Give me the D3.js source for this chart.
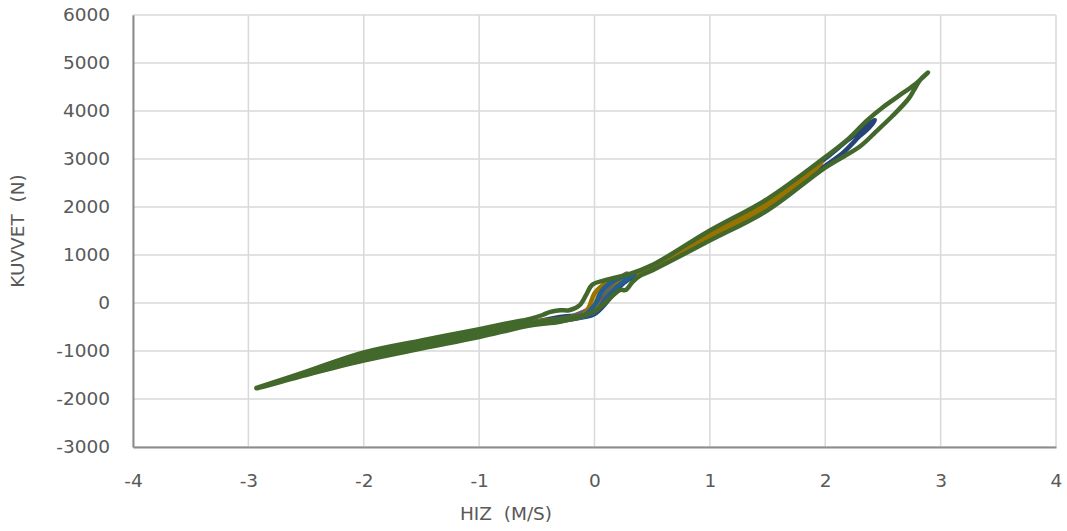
<!DOCTYPE html>
<html><head><meta charset="utf-8">
<script src="https://cdn.jsdelivr.net/npm/d3@7"></script>
<style>body{margin:0;background:#fff}svg{display:block}text{font-family:"DejaVu Sans",sans-serif;fill:#595959;white-space:pre}</style>
</head><body><svg id="c" width="1067" height="531"></svg>
<script>
const xTicks=[-4,-3,-2,-1,0,1,2,3,4];
const yTicks=[-3000,-2000,-1000,0,1000,2000,3000,4000,5000,6000];
const seriesNames=["S1","S2","S3","S4","S5","S6","S7","S8","S9","S10","S11","S12"];
const seriesColors=["#4472C4","#ED7D31","#A5A5A5","#FFC000","#5B9BD5","#70AD47","#264478","#9E480E","#636363","#997300","#255E91","#43682B"];
// each series: [velocity, force] pairs, loops in test order
const s1=[[-0.25,-330],[-0.1,-260],[0,-100],[0.05,150],[0.12,400],[0.25,560],[0.2,450],[0.12,250],[0.05,0],[-0.05,-240],[-0.25,-340]];
const s2=[[-0.2,-300],[-0.05,-200],[0.05,100],[0.12,350],[0.2,540],[0.17,450],[0.1,200],[0,-150],[-0.2,-310]];
const s3=[[-0.3,-350],[-0.1,-260],[0,0],[0.1,350],[0.28,600],[0.25,520],[0.15,300],[0.05,0],[-0.1,-280],[-0.3,-360]];
const s4=[[-0.1,-230],[0,50],[0.1,420],[0.05,150],[-0.05,-180],[-0.1,-240]];
const s5=[[-0.15,-270],[-0.02,-120],[0.05,200],[0.15,460],[0.12,330],[0.04,50],[-0.05,-220],[-0.15,-280]];
const s6=[[-0.12,-250],[0,-50],[0.06,250],[0.12,420],[0.08,250],[0.02,0],[-0.06,-220],[-0.12,-255]];
const s7=[[-2.45,-1430],[-2,-1120],[-1.5,-860],[-1,-620],[-0.6,-430],[-0.3,-290],[-0.1,-230],[0,-100],[0.05,200],[0.15,450],[0.5,750],[1,1470],[1.5,2130],[2,3010],[2.2,3400],[2.43,3810],[2.38,3650],[2.3,3480],[2.15,3120],[2,2860],[1.5,1990],[1,1340],[0.5,710],[0.3,500],[0.2,300],[0.1,0],[0,-230],[-0.1,-300],[-0.3,-380],[-0.6,-460],[-1,-660],[-2,-1160],[-2.45,-1450]];
const s8=[[-0.22,-310],[-0.05,-220],[0.04,50],[0.11,280],[0.22,540],[0.18,450],[0.1,220],[0.02,-100],[-0.22,-320]];
const s9=[[-0.28,-340],[-0.05,-230],[0.05,150],[0.18,420],[0.28,620],[0.24,500],[0.15,300],[0.05,0],[-0.28,-350]];
const s10=[[-1.97,-1120],[-1,-620],[-0.5,-390],[-0.1,-250],[-0.05,-100],[0,200],[0.1,420],[0.5,740],[1,1440],[1.5,2080],[1.97,2920],[1.9,2760],[1.5,2020],[1,1380],[0.5,720],[0.25,500],[0.15,250],[0.05,-50],[-0.1,-280],[-0.5,-420],[-1,-650],[-1.97,-1140]];
const s11=[[-0.35,-360],[-0.1,-270],[0,-50],[0.08,300],[0.2,500],[0.35,600],[0.3,520],[0.2,350],[0.1,100],[0,-200],[-0.35,-370]];
const s12=[[-2.93,-1770],[-2.5,-1430],[-2,-1030],[-1.5,-780],[-1,-545],[-0.75,-420],[-0.56,-330],[-0.45,-250],[-0.39,-190],[-0.3,-150],[-0.22,-150],[-0.13,-50],[-0.07,180],[-0.02,380],[0.1,480],[0.3,600],[0.5,790],[1,1510],[1.5,2170],[2,3040],[2.2,3420],[2.36,3800],[2.5,4080],[2.64,4320],[2.77,4540],[2.89,4800],[2.82,4640],[2.77,4440],[2.72,4250],[2.58,3890],[2.44,3570],[2.3,3260],[2,2820],[1.5,1930],[1,1300],[0.5,680],[0.39,560],[0.33,440],[0.27,270],[0.22,270],[0.1,20],[0.02,-150],[-0.05,-220],[-0.1,-270],[-0.3,-390],[-0.56,-470],[-1,-710],[-1.5,-950],[-2,-1200],[-2.5,-1500],[-2.93,-1780],[-2.5,-1465],[-2,-1115],[-1.5,-865],[-1,-625],[-0.6,-440],[-0.3,-330],[-0.1,-260]];
const seriesData=[s1,s2,s3,s4,s5,s6,s7,s8,s9,s10,s11,s12];

const svg=d3.select("#c");
const L=133,R=1056,T=15,B=447;
const x=d3.scaleLinear().domain([-4,4]).range([L,R]);
const y=d3.scaleLinear().domain([-3000,6000]).range([B,T]);
const fmt=d=>String(d);

// gridlines
svg.append("g").selectAll("line").data(xTicks).join("line")
  .attr("x1",d=>x(d)).attr("x2",d=>x(d)).attr("y1",T).attr("y2",B)
  .attr("stroke","#d9d9d9").attr("stroke-width",1.5);
svg.append("g").selectAll("line").data(yTicks).join("line")
  .attr("x1",L).attr("x2",R).attr("y1",d=>y(d)).attr("y2",d=>y(d))
  .attr("stroke","#d9d9d9").attr("stroke-width",1.5);

// axes
const xa=svg.append("g").attr("transform",`translate(0,${B})`)
  .call(d3.axisBottom(x).tickValues(xTicks).tickSize(0).tickPadding(27).tickFormat(fmt));
const ya=svg.append("g").attr("transform",`translate(${L},0)`)
  .call(d3.axisLeft(y).tickValues(yTicks).tickSize(0).tickPadding(23).tickFormat(fmt));
[xa,ya].forEach(a=>{a.select(".domain").attr("stroke","#8c8c8c").attr("stroke-width",2);
  a.selectAll("text").style("font-family","DejaVu Sans").style("font-size","18.5px").attr("fill","#595959");});

// series
const line=d3.line().x(d=>x(d[0])).y(d=>y(d[1])).curve(d3.curveCatmullRom.alpha(0.5));
svg.append("g").selectAll("path").data(seriesData).join("path")
  .attr("d",line).attr("fill","none")
  .attr("stroke",(d,i)=>seriesColors[i])
  .attr("stroke-width",4.5).attr("stroke-linejoin","round").attr("stroke-linecap","round");

// axis titles
svg.append("text").attr("x",506).attr("y",520).attr("text-anchor","middle")
  .style("font-size","18.5px").text("HIZ  (M/S)");
svg.append("text").attr("transform","translate(24,231) rotate(-90)").attr("text-anchor","middle")
  .style("font-size","18.5px").text("KUVVET  (N)");
</script></body></html>
